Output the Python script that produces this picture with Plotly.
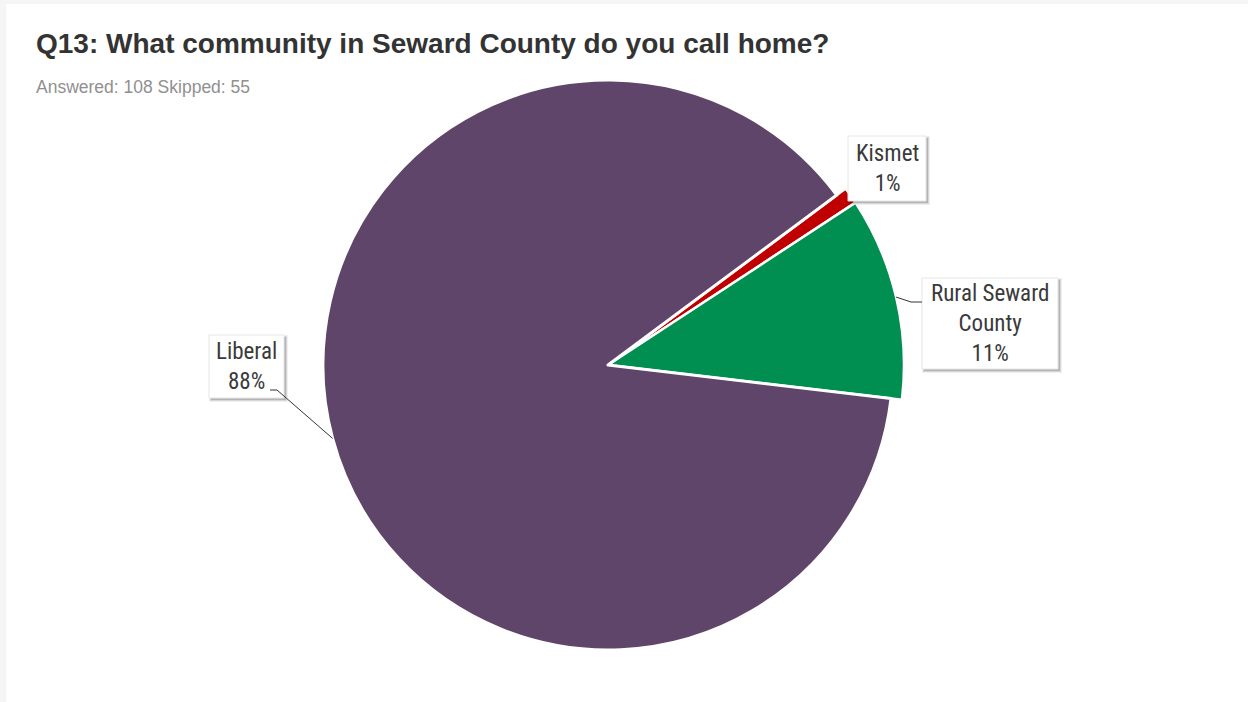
import math
import plotly.graph_objects as go

# Survey answers for Q13
categories = ["Kismet", "Rural Seward County", "Liberal"]
counts = [1, 12, 95]
box_text = ["Kismet<br>1%", "Rural Seward<br>County<br>11%", "Liberal<br>88%"]
answered = 108
skipped = 55

colors = ["#C00000", "#008F51", "#5E4569"]
# smaller slices are drawn on a slightly larger radius
raised = [True, True, False]

W, H = 1248, 702
CX, CY = 608, 365
R_MAIN, R_RAISED = 285, 296
ROT = 53.4  # clockwise degrees from 12 o'clock where the first slice starts


def px(x):
    return x / W


def py(y):
    return 1 - y / H


def domain(r):
    return dict(x=[px(CX - r), px(CX + r)], y=[py(CY + r), py(CY - r)])


clear = "rgba(0,0,0,0)"

raised_trace = go.Pie(
    labels=categories,
    values=counts,
    sort=False,
    direction="clockwise",
    rotation=ROT,
    marker=dict(colors=[c if up else clear for c, up in zip(colors, raised)],
                line=dict(color="white", width=[2.5 if up else 0 for up in raised])),
    textinfo="none",
    hoverinfo="label+percent",
    showlegend=False,
    domain=domain(R_RAISED),
)
main_trace = go.Pie(
    labels=categories,
    values=counts,
    sort=False,
    direction="clockwise",
    rotation=ROT,
    marker=dict(colors=[clear if up else c for c, up in zip(colors, raised)],
                line=dict(color="white", width=[0 if up else 3 for up in raised])),
    textinfo="none",
    hoverinfo="label+percent",
    showlegend=False,
    domain=domain(R_MAIN),
)
fig = go.Figure([raised_trace, main_trace])

# slice mid-angles from the data, for leader lines
total = sum(counts)
mids = []
acc = 0.0
for v in counts:
    a0 = ROT + 360 * acc / total
    acc += v
    a1 = ROT + 360 * acc / total
    mids.append((a0 + a1) / 2)


def edge_point(i):
    r = R_RAISED if raised[i] else R_MAIN
    t = math.radians(mids[i])
    return CX + r * math.sin(t), CY - r * math.cos(t)


shapes = []
annotations = []

# light page frame around the card
shapes.append(dict(type="rect", xref="paper", yref="paper", x0=0, x1=1,
                   y0=py(4), y1=1, fillcolor="#f5f5f5", line=dict(width=0), layer="below"))
shapes.append(dict(type="rect", xref="paper", yref="paper", x0=0, x1=px(6),
                   y0=0, y1=1, fillcolor="#f5f5f5", line=dict(width=0), layer="below"))

# label boxes: (left, top, right, bottom) in pixels
boxes = [
    (848, 136, 926, 201),
    (922, 278, 1058, 369),
    (209, 335, 284, 398),
]

for (x0, y0, x1, y1), txt in zip(boxes, box_text):
    for k, a in ((4, 0.06), (3, 0.10), (2, 0.16)):
        shapes.append(dict(type="rect", xref="paper", yref="paper",
                           x0=px(x0 + 4 - k), x1=px(x1 + k), y0=py(y1 + k), y1=py(y0 + 4 - k),
                           fillcolor=f"rgba(0,0,0,{a})", line=dict(width=0)))
    shapes.append(dict(type="rect", xref="paper", yref="paper",
                       x0=px(x0), x1=px(x1), y0=py(y1), y1=py(y0),
                       fillcolor="white", line=dict(color="#e6e6e6", width=1)))
    annotations.append(dict(xref="paper", yref="paper", x=px((x0 + x1) / 2), y=py((y0 + y1) / 2),
                            text=txt, showarrow=False, xanchor="center", yanchor="middle",
                            align="center",
                            font=dict(family="Roboto Condensed, Liberation Sans Narrow, Roboto, sans-serif",
                                      size=23, color="#3a3a3a")))

# leader lines
ex, ey = edge_point(1)
shapes.append(dict(type="path", xref="paper", yref="paper",
                   path=f"M {px(ex)} {py(ey)} L {px(911)} {py(302)} L {px(922)} {py(302)}",
                   line=dict(color="#333333", width=1)))
ex, ey = edge_point(2)
shapes.append(dict(type="path", xref="paper", yref="paper",
                   path=f"M {px(ex)} {py(ey)} L {px(277)} {py(390)} L {px(270)} {py(390)}",
                   line=dict(color="#333333", width=1)))

annotations.append(dict(xref="paper", yref="paper", x=px(34), y=py(26), xanchor="left", yanchor="top",
                        text="<b>Q13: What community in Seward County do you call home?</b>",
                        showarrow=False,
                        font=dict(family="Liberation Sans, Arial, sans-serif", size=28, color="#333333")))
annotations.append(dict(xref="paper", yref="paper", x=px(34), y=py(75), xanchor="left", yanchor="top",
                        text=f"Answered: {answered} Skipped: {skipped}",
                        showarrow=False,
                        font=dict(family="Liberation Sans, Arial, sans-serif", size=17.5, color="#909090")))

fig.update_layout(
    width=W,
    height=H,
    margin=dict(l=0, r=0, t=0, b=0),
    paper_bgcolor="white",
    plot_bgcolor="white",
    shapes=shapes,
    annotations=annotations,
)

fig.write_html("out.html", config={"displayModeBar": False})
